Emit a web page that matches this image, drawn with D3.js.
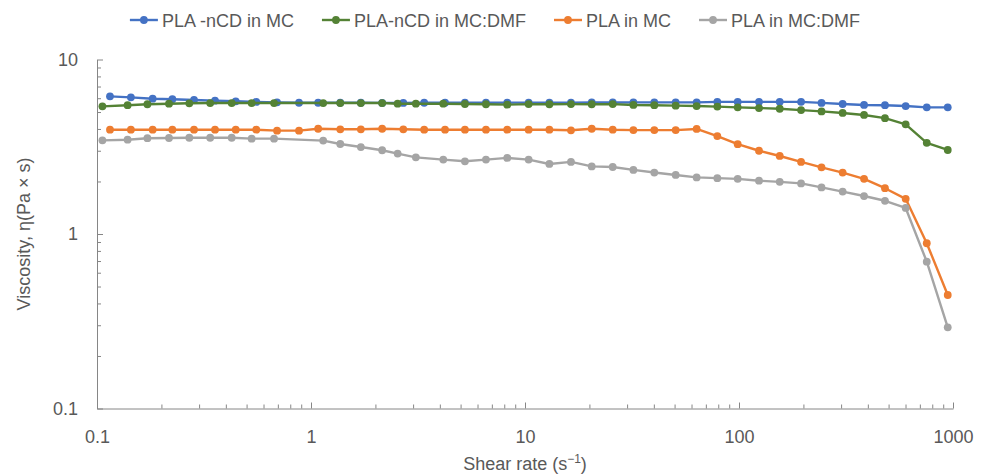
<!DOCTYPE html>
<html>
    <head>
        <meta charset="UTF-8">
        <title>Viscosity vs shear rate</title>
        <script src="https://d3js.org/d3.v7.min.js"></script>
        <style>
            body {
                margin:0;
                padding:0;
                background: #fff;
            }
            text {
                font-family: "Liberation Sans", Arial, sans-serif;
                fill: #595959;
            }
        </style>
    </head>
    <body>
        <div id="chart"></div>
        <script>
            // shear rates (1/s): two sampling grids
            var rateA = [0.115, 0.144, 0.182, 0.225, 0.284, 0.356, 0.445, 0.555, 0.694, 0.879,
                1.08, 1.37, 1.71, 2.15, 2.70, 3.38, 4.23, 5.24, 6.57, 8.26,
                10.4, 13.0, 16.4, 20.5, 25.7, 32.1, 40.2, 50.6, 63.4, 79.2,
                98.6, 124, 155, 195, 243, 305, 384, 481, 601, 754, 945];
            var rateB = [0.106, 0.139, 0.172, 0.217, 0.270, 0.338, 0.426, 0.528, 0.672,
                1.14, 1.37, 1.71, 2.15, 2.54, 3.09, 4.15,
                5.24, 6.57, 8.26, 10.4, 13.0, 16.4, 20.5, 25.7,
                32.1, 40.2, 50.6, 63.4, 79.2, 98.6, 124, 155, 195, 243, 305, 384, 481, 601, 754, 945];

            // viscosity (Pa s)
            var plaNcdMC = [6.15, 6.07, 5.96, 5.92, 5.86, 5.81, 5.76, 5.71, 5.68, 5.65,
                5.65, 5.65, 5.65, 5.64, 5.64, 5.65, 5.65, 5.65, 5.65, 5.66,
                5.66, 5.66, 5.66, 5.67, 5.67, 5.68, 5.68, 5.68, 5.68, 5.72,
                5.72, 5.72, 5.72, 5.72, 5.64, 5.56, 5.49, 5.47, 5.41, 5.32, 5.32];
            var plaNcdMCDMF = [5.39, 5.47, 5.54, 5.58, 5.61, 5.63, 5.63, 5.63, 5.63,
                5.63, 5.63, 5.63, 5.63, 5.58, 5.58, 5.58,
                5.56, 5.54, 5.51, 5.55, 5.54, 5.55, 5.54, 5.55,
                5.49, 5.47, 5.44, 5.41, 5.37, 5.32, 5.27, 5.22, 5.13, 5.04, 4.94, 4.81, 4.61, 4.25, 3.33, 3.03];
            var plaMC = [3.96, 3.96, 3.96, 3.96, 3.96, 3.96, 3.96, 3.96, 3.91, 3.91,
                4.01, 3.98, 3.98, 4.01, 3.98, 3.96, 3.96, 3.96, 3.96, 3.96,
                3.96, 3.96, 3.93, 4.01, 3.96, 3.94, 3.94, 3.94, 4.00, 3.64,
                3.27, 3.00, 2.80, 2.59, 2.41, 2.25, 2.07, 1.83, 1.59, 0.885, 0.447];
            var plaMCDMF = [3.44, 3.47, 3.54, 3.55, 3.56, 3.56, 3.56, 3.52, 3.52,
                3.43, 3.28, 3.15, 3.02, 2.89, 2.75, 2.67,
                2.61, 2.67, 2.73, 2.67, 2.52, 2.59, 2.44, 2.42,
                2.33, 2.25, 2.18, 2.11, 2.09, 2.07, 2.02, 1.99, 1.95, 1.85, 1.75, 1.65, 1.55, 1.41, 0.694, 0.292];

            var seriesNames = ['PLA -nCD in MC', 'PLA-nCD in MC:DMF', 'PLA in MC', 'PLA in MC:DMF'];
            var xTickLabels = ['0.1', '1', '10', '100', '1000'];
            var yTickLabels = ['0.1', '1', '10'];

            var colors = ['#4472C4', '#548235', '#ED7D31', '#A5A5A5'];
            var series = [
                {name: seriesNames[0], x: rateA, y: plaNcdMC, color: colors[0]},
                {name: seriesNames[1], x: rateB, y: plaNcdMCDMF, color: colors[1]},
                {name: seriesNames[2], x: rateA, y: plaMC, color: colors[2]},
                {name: seriesNames[3], x: rateB, y: plaMCDMF, color: colors[3]}
            ];

            var svgWidth = 984, svgHeight = 475;
            var margin = {top: 59.5, right: 31, bottom: 66.5, left: 97};
            var width = svgWidth - margin.left - margin.right;
            var height = svgHeight - margin.top - margin.bottom;
            var fontSize = '18px';

            var svg = d3.select('#chart').append('svg')
                .attr('width', svgWidth)
                .attr('height', svgHeight)
                .style('display', 'block');

            var g = svg.append('g')
                .attr('transform', `translate(${margin.left}, ${margin.top})`);

            var x = d3.scaleLog().domain([0.1, 1000]).range([0, width]);
            var y = d3.scaleLog().domain([0.1, 10]).range([height, 0]);

            var axisColor = '#868686';
            var majorX = xTickLabels.map(Number);
            var majorY = yTickLabels.map(Number);
            var minorX = x.ticks().filter(d => majorX.indexOf(+d.toPrecision(6)) < 0);
            var minorY = y.ticks().filter(d => majorY.indexOf(+d.toPrecision(6)) < 0);

            // minor ticks first (no labels), ticks point inward
            g.append('g')
                .attr('transform', `translate(0, ${height})`)
                .call(d3.axisBottom(x).tickValues(minorX).tickSize(-4).tickSizeOuter(0).tickFormat(''))
                .call(a => a.select('.domain').remove());
            g.append('g')
                .call(d3.axisLeft(y).tickValues(minorY).tickSize(-4).tickSizeOuter(0).tickFormat(''))
                .call(a => a.select('.domain').remove());

            g.append('g')
                .attr('transform', `translate(0, ${height})`)
                .call(d3.axisBottom(x).tickValues(majorX).tickSize(-6).tickSizeOuter(0)
                    .tickPadding(22).tickFormat((d, i) => xTickLabels[i]));
            g.append('g')
                .call(d3.axisLeft(y).tickValues(majorY).tickSize(-6).tickSizeOuter(0)
                    .tickPadding(19).tickFormat((d, i) => yTickLabels[i]));

            g.selectAll('.tick line, .domain').attr('stroke', axisColor).attr('stroke-width', 1);
            g.selectAll('.tick text')
                .style('font-family', '"Liberation Sans", Arial, sans-serif')
                .style('font-size', fontSize)
                .attr('fill', '#404040');

            // lines and markers
            var line = d3.line()
                .x(d => x(d[0]))
                .y(d => y(d[1]));

            series.forEach(s => {
                var pts = s.x.map((v, i) => [v, s.y[i]]);
                var sg = g.append('g').attr('class', 'series');
                sg.append('path')
                    .datum(pts)
                    .attr('fill', 'none')
                    .attr('stroke', s.color)
                    .attr('stroke-width', 2.4)
                    .attr('stroke-linejoin', 'round')
                    .attr('d', line);
                sg.selectAll('circle')
                    .data(pts)
                    .join('circle')
                    .attr('cx', d => x(d[0]))
                    .attr('cy', d => y(d[1]))
                    .attr('r', 3.9)
                    .attr('fill', s.color);
            });

            // axis titles
            var xTitle = svg.append('text')
                .attr('x', margin.left + width / 2)
                .attr('y', 470)
                .attr('text-anchor', 'middle')
                .style('font-size', fontSize);
            xTitle.append('tspan').text('Shear rate (s');
            xTitle.append('tspan').attr('dy', -7).style('font-size', '12px').text('\u22121');
            xTitle.append('tspan').attr('dy', 7).text(')');

            svg.append('text')
                .attr('transform', `translate(30, ${margin.top + height / 2}) rotate(-90)`)
                .attr('text-anchor', 'middle')
                .style('font-size', fontSize)
                .text('Viscosity, \u03b7(Pa \u00d7 s)');

            // legend, centred across the top
            var legend = svg.append('g');
            var items = legend.selectAll('g')
                .data(series)
                .join('g');
            items.append('line')
                .attr('x1', 0).attr('x2', 28)
                .attr('y1', 20).attr('y2', 20)
                .attr('stroke', d => d.color)
                .attr('stroke-width', 2.4);
            items.append('circle')
                .attr('cx', 14).attr('cy', 20).attr('r', 3.9)
                .attr('fill', d => d.color);
            items.append('text')
                .attr('x', 32)
                .attr('y', 26.5)
                .style('font-size', fontSize)
                .text(d => d.name);
            var offset = 0;
            items.each(function() {
                var w = 32 + this.querySelector('text').getComputedTextLength();
                d3.select(this).attr('transform', `translate(${offset}, 0)`);
                offset += w + 28;
            });
            var total = offset - 28;
            legend.attr('transform', `translate(${(495 - total / 2).toFixed(1)}, 0)`);
        </script>
    </body>
</html>
